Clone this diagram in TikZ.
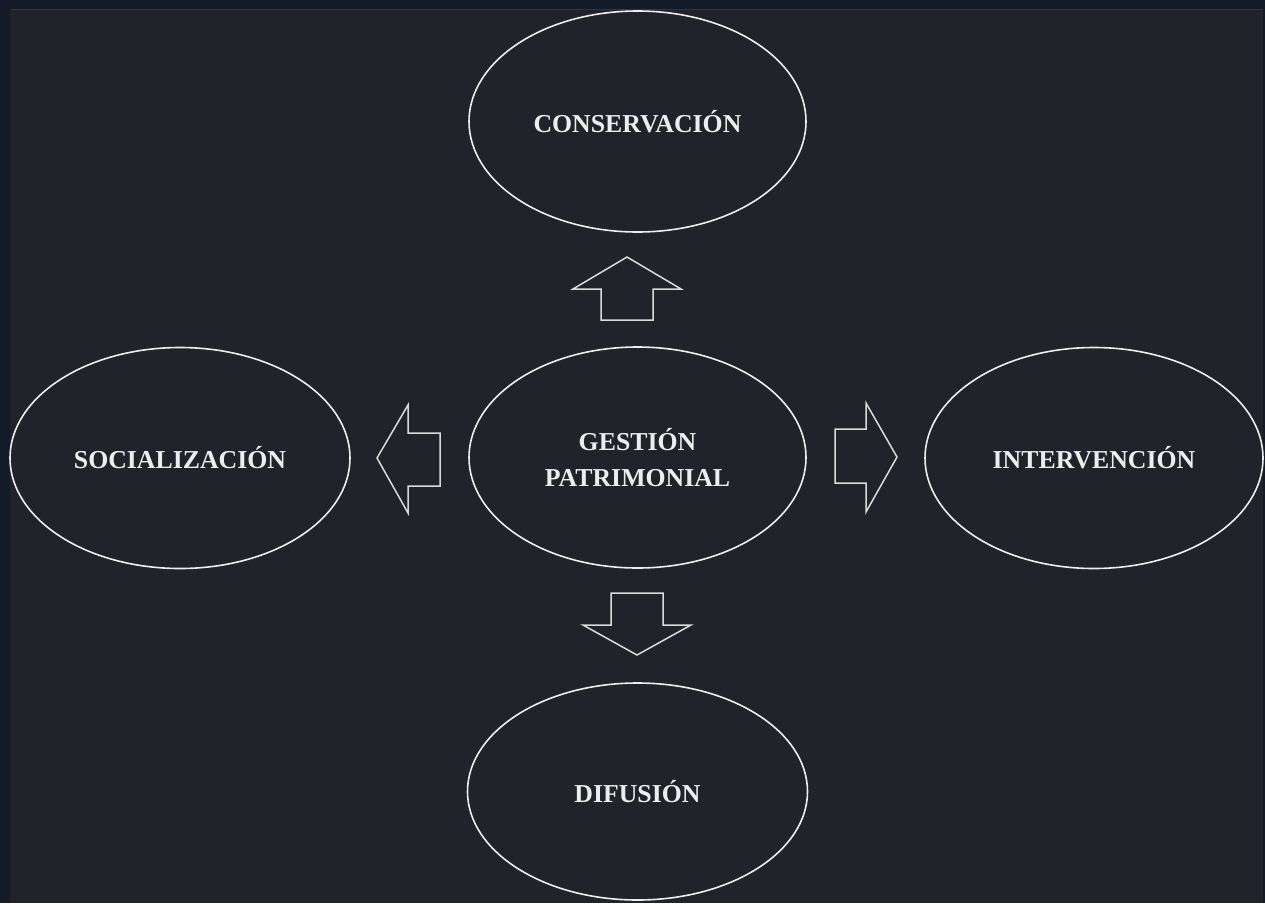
\documentclass[tikz,border=0pt]{standalone}
\usepackage{fontspec}
\setmainfont{Liberation Serif}
\usetikzlibrary{shapes.geometric}
\definecolor{outerbg}{HTML}{121B27}
\definecolor{panelbg}{HTML}{202329}
\definecolor{paneledge}{HTML}{2E3440}
\definecolor{ink}{HTML}{EDEDED}
\definecolor{arrowink}{HTML}{DADADA}
\tikzset{
  oval/.style={ellipse, draw=ink, line width=1.6pt, minimum width=337pt, minimum height=221pt, inner sep=0pt, text=ink, font=\fontsize{25.8}{36}\selectfont\bfseries, align=center},
  blockarrow/.style={draw=arrowink, line width=1.5pt, line join=miter}
}
\begin{document}
\begin{tikzpicture}[x=1pt,y=-1pt]
\useasboundingbox (0,0) rectangle (1265,903);
\fill[outerbg] (0,0) rectangle (1265,903);
\fill[panelbg] (10,9) rectangle (1263,903);
\draw[paneledge, line width=1.5pt] (10,9.5) -- (1263,9.5);

\node[oval] (cons) at (637.5,121.5) {CONSERVACIÓN};
\node[oval] (gest) at (637.5,457.5) {GESTIÓN\\PATRIMONIAL};
\node[oval, minimum width=340pt] (soc) at (180,458) {SOCIALIZACIÓN};
\node[oval, minimum width=338pt] (inte) at (1094,458) {INTERVENCIÓN};
\node[oval, minimum width=340pt, minimum height=217pt] (dif) at (637.5,791.5) {DIFUSIÓN};

% up arrow
\draw[blockarrow] (627,257) -- (681,289) -- (653,289) -- (653,320) -- (601,320) -- (601,289) -- (573,289) -- cycle;
% down arrow
\draw[blockarrow] (637,655) -- (691,625) -- (663,625) -- (663,593) -- (611,593) -- (611,625) -- (583,625) -- cycle;
% left arrow
\draw[blockarrow] (377,458) -- (408,405) -- (408,433) -- (440,433) -- (440,486) -- (408,486) -- (408,513) -- cycle;
% right arrow
\draw[blockarrow] (897,457) -- (866,403) -- (866,429) -- (835,429) -- (835,483) -- (866,483) -- (866,512) -- cycle;
\end{tikzpicture}
\end{document}
